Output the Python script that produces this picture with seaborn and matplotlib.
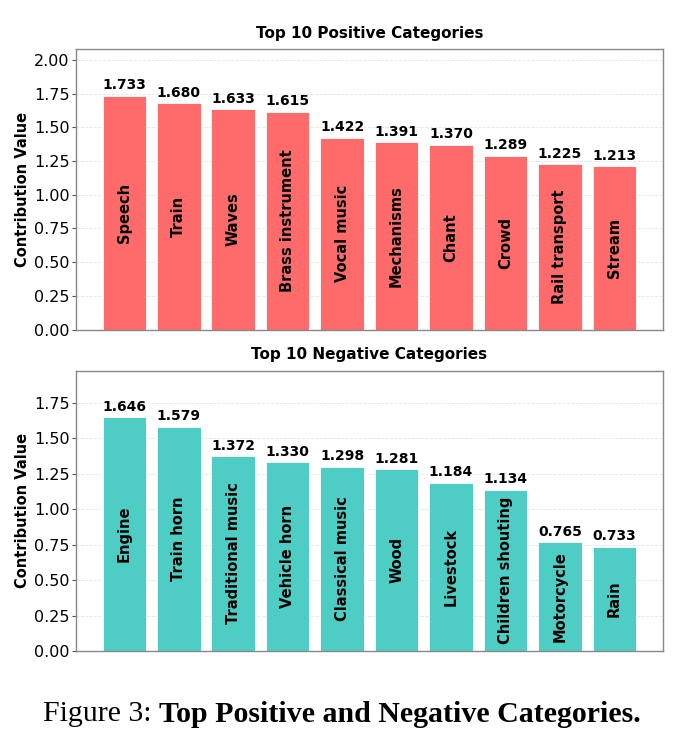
import numpy as np
import pandas as pd
import matplotlib
matplotlib.use('Agg')
import matplotlib.pyplot as plt
from matplotlib.ticker import MultipleLocator, FormatStrFormatter
import seaborn as sns

# Data
pos_categories = ['Speech', 'Train', 'Waves', 'Brass instrument', 'Vocal music',
                  'Mechanisms', 'Chant', 'Crowd', 'Rail transport', 'Stream']
pos_values = [1.733, 1.680, 1.633, 1.615, 1.422, 1.391, 1.370, 1.289, 1.225, 1.213]

neg_categories = ['Engine', 'Train horn', 'Traditional music', 'Vehicle horn', 'Classical music',
                  'Wood', 'Livestock', 'Children shouting', 'Motorcycle', 'Rain']
neg_values = [1.646, 1.579, 1.372, 1.330, 1.298, 1.281, 1.184, 1.134, 0.765, 0.733]

sns.set_style('white')
plt.rcParams['font.family'] = ['DejaVu Sans']
plt.rcParams['text.color'] = 'black'
plt.rcParams['axes.labelcolor'] = 'black'

fig, axes = plt.subplots(2, 1, figsize=(6.84, 7.44), dpi=100)
fig.subplots_adjust(left=0.111, right=0.969, top=0.934, bottom=0.125, hspace=0.146)


def draw_panel(ax, cats, vals, color, title):
    df = pd.DataFrame({'cat': cats, 'val': vals})
    sns.barplot(data=df, x='cat', y='val', color=color, saturation=1, width=0.8,
                edgecolor='white', linewidth=0.6, ax=ax)
    for i, (c, v) in enumerate(zip(cats, vals)):
        ax.text(i, v + 0.025, f'{v:.3f}', ha='center', va='bottom',
                fontsize=10, fontweight='bold', color='black')
        ax.text(i, v / 2, c, ha='center', va='center', rotation=90,
                fontsize=10.5, fontweight='bold', color='black')
    ax.set_ylim(0, max(vals) * 1.2)
    ax.set_xlim(-0.89, len(cats) - 1 + 0.89)
    ax.yaxis.set_major_locator(MultipleLocator(0.25))
    ax.yaxis.set_major_formatter(FormatStrFormatter('%.2f'))
    ax.set_xticks([])
    ax.set_xlabel('')
    ax.set_ylabel('Contribution Value', fontsize=10.5, fontweight='bold', color='black',
                  labelpad=3)
    ax.set_title(title, fontsize=11, fontweight='bold', pad=8, color='black')
    ax.yaxis.grid(True, linestyle='--', color='#cccccc', alpha=0.5, linewidth=0.6)
    ax.set_axisbelow(True)
    ax.tick_params(axis='y', left=True, length=3, width=0.8, pad=1.5, labelsize=11.5,
                   colors='black', color='#555555')
    for s in ax.spines.values():
        s.set_visible(True)
        s.set_color('#888888')
        s.set_linewidth(1.0)


draw_panel(axes[0], pos_categories, pos_values, '#FF6B6B', 'Top 10 Positive Categories')
draw_panel(axes[1], neg_categories, neg_values, '#4ECDC4', 'Top 10 Negative Categories')

# caption with mixed weight
fig.canvas.draw()
r = fig.canvas.get_renderer()
t1 = fig.text(0, 0.04, 'Figure 3: ', family='Liberation Serif', fontsize=21.5, va='center')
t2 = fig.text(0, 0.04, 'Top Positive and Negative Categories.', family='Liberation Serif',
              fontsize=21.5, fontweight='bold', va='center')
w1 = t1.get_window_extent(r).width
w2 = t2.get_window_extent(r).width
W = fig.bbox.width
x0 = (W - w1 - w2) / 2
t1.set_x(x0 / W)
t2.set_x((x0 + w1) / W)

fig.savefig('out.png', dpi=100)
